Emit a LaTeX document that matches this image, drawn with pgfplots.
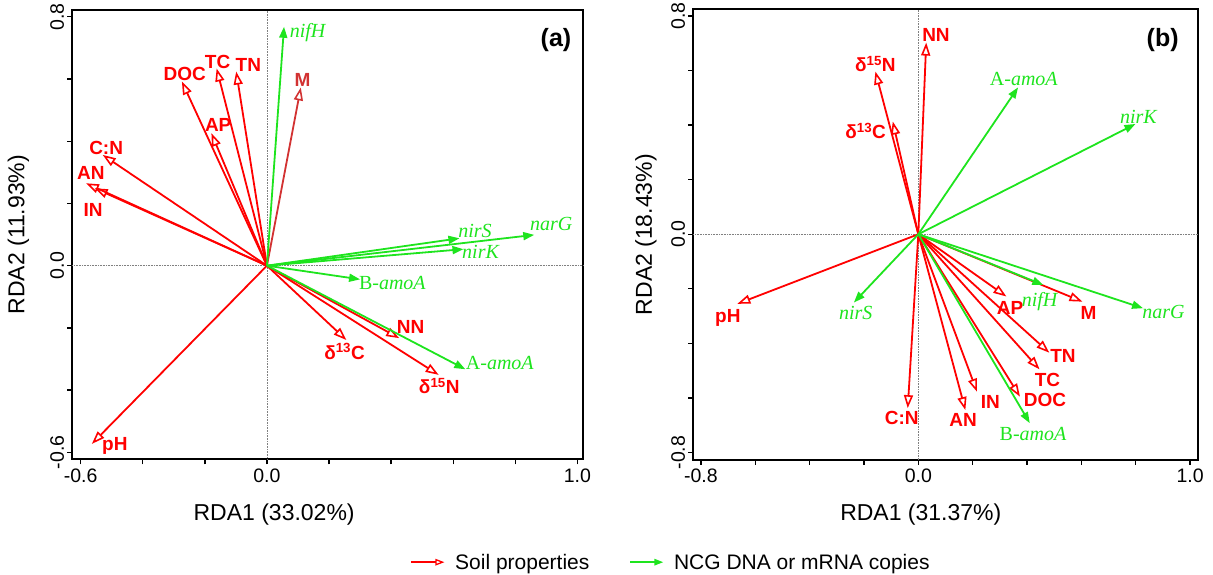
\documentclass[border=0pt]{standalone}
\usepackage{pgfplots}
\pgfplotsset{compat=1.18}
\usepackage{fontspec}
\setmainfont{Liberation Sans}
\newfontfamily\tms{Liberation Serif}
\usetikzlibrary{arrows.meta}
\definecolor{ngreen}{RGB}{30,228,30}
\definecolor{mred}{RGB}{210,50,50}
\newcommand{\soil}[2]{\addplot[soilarr, forget plot] coordinates {(0,0) (#1,#2)};}
\newcommand{\soilc}[3]{\addplot[soilarr, draw=#3, forget plot] coordinates {(0,0) (#1,#2)};}
\newcommand{\gene}[2]{\addplot[genearr, forget plot] coordinates {(0,0) (#1,#2)};}
\newcommand{\slbl}[3]{\node[slab] at (axis cs:#1,#2) {#3};}
\newcommand{\glbl}[3]{\node[glab] at (axis cs:#1,#2) {#3};}
\begin{document}
\begin{tikzpicture}
\useasboundingbox (0pt,0pt) rectangle (1213pt,575pt);
\tikzset{
  soilarr/.style={draw=red, line width=1.8pt, -{Triangle[open, length=13pt, width=9pt, line width=1.6pt]}},
  genearr/.style={draw=ngreen, fill=ngreen, line width=1.8pt, -{Triangle[length=11pt, width=8pt]}},
  slab/.style={text=red, font=\bfseries\fontsize{19}{19}\selectfont, inner sep=0pt},
  glab/.style={text=ngreen, font=\tms\itshape\fontsize{20}{20}\selectfont, inner sep=0pt},
}
\pgfplotsset{
  rda/.style={
    scale only axis, clip=false,
    axis line style={line width=1.8pt},
    tick align=outside, tick pos=left,
    major tick length=5pt,
    tick style={black, line width=1.3pt},
    ticklabel style={font=\fontsize{19.5}{20}\selectfont},
    /pgf/number format/assume math mode=true,
    yticklabel style={rotate=90, anchor=south, inner sep=3pt},
    xticklabel style={anchor=north, inner sep=4pt},
  }
}
% ---------------- panel (a) ----------------
\begin{axis}[rda,
  at={(72.3pt,115.7pt)}, anchor=south west,
  width=511pt, height=449.3pt,
  xmin=-0.627, xmax=1.019, ymin=-0.6225, ymax=0.822,
  xtick={-0.6,-0.4,-0.2,0,0.2,0.4,0.6,0.8,1.0},
  xticklabels={-0.6,,,0.0,,,,,1.0},
  ytick={-0.6,-0.4,-0.2,0,0.2,0.4,0.6,0.8},
  yticklabels={-0.6,,,0.0,,,,0.8},
  xlabel={RDA1 (33.02\%)}, ylabel={RDA2 (11.93\%)},
  every axis x label/.style={at={(rel axis cs:0.395,0)}, anchor=center, yshift=-55pt, font=\fontsize{23}{23}\selectfont},
  every axis y label/.style={at={(rel axis cs:0,0.5)}, anchor=center, xshift=-54pt, rotate=90, font=\fontsize{23}{23}\selectfont},
  legend columns=2,
  legend style={at={(axis description cs:0.6558,-0.229)}, anchor=west, draw=none, fill=none,
    font=\fontsize{21}{21}\selectfont,
    /tikz/every odd column/.append style={column sep=8pt},
    /tikz/every even column/.append style={column sep=38pt}},
]
\addplot[forget plot, densely dotted, gray, line width=0.6pt] coordinates {(0,-0.6225) (0,0.822)};
\addplot[forget plot, densely dotted, gray, line width=0.6pt] coordinates {(-0.627,0) (1.019,0)};
% soil properties
\soil{-0.099}{0.624}
\soil{-0.162}{0.634}
\soil{-0.274}{0.592}
\soil{-0.179}{0.426}
\soil{-0.529}{0.356}
\soil{-0.583}{0.265}
\soil{-0.555}{0.249}
\soil{0.256}{-0.239}
\soil{0.426}{-0.233}
\soil{0.553}{-0.351}
\soil{-0.564}{-0.573}
\soilc{0.109}{0.573}{mred}
% genes
\gene{0.055}{0.768}
\gene{0.620}{0.088}
\gene{0.861}{0.099}
\gene{0.633}{0.053}
\gene{0.300}{-0.044}
\gene{0.639}{-0.333}
% labels
\node[slab, text=mred] at (axis cs:0.115,0.597) {M};
\slbl{-0.060}{0.645}{TN}
\slbl{-0.159}{0.654}{TC}
\slbl{-0.265}{0.616}{DOC}
\slbl{-0.157}{0.452}{AP}
\slbl{-0.518}{0.380}{C:N}
\slbl{-0.567}{0.297}{AN}
\slbl{-0.560}{0.179}{IN}
\slbl{0.250}{-0.276}{δ\textsuperscript{13}C}
\slbl{0.463}{-0.198}{NN}
\slbl{0.555}{-0.387}{δ\textsuperscript{15}N}
\slbl{-0.490}{-0.579}{pH}
\glbl{0.131}{0.749}{nifH}
\glbl{0.670}{0.111}{nirS}
\glbl{0.916}{0.134}{narG}
\glbl{0.688}{0.043}{nirK}
\glbl{0.404}{-0.057}{{\upshape B-}amoA}
\glbl{0.750}{-0.312}{{\upshape A-}amoA}
\node[font=\bfseries\fontsize{25}{25}\selectfont] at (axis cs:0.931,0.726) {(a)};
\addlegendimage{legend image code/.code={\draw[red, line width=1.6pt, -{Triangle[open, length=9pt, width=6.5pt, line width=1.3pt]}] (0pt,0pt) -- (33pt,0pt);}}
\addlegendentry{Soil properties}
\addlegendimage{legend image code/.code={\draw[ngreen, fill=ngreen, line width=1.6pt, -{Triangle[length=9pt, width=6.5pt]}] (0pt,0pt) -- (33pt,0pt);}}
\addlegendentry{NCG DNA or mRNA copies}
\end{axis}
% ---------------- panel (b) ----------------
\begin{axis}[rda,
  at={(693.3pt,115pt)}, anchor=south west,
  width=504.4pt, height=450.7pt,
  xmin=-0.828, xmax=1.028, ymin=-0.827, ymax=0.824,
  xtick={-0.8,-0.6,-0.4,-0.2,0,0.2,0.4,0.6,0.8,1.0},
  xticklabels={-0.8,,,,0.0,,,,,1.0},
  ytick={-0.8,-0.6,-0.4,-0.2,0,0.2,0.4,0.6,0.8},
  yticklabels={-0.8,,,,0.0,,,,0.8},
  xlabel={RDA1 (31.37\%)}, ylabel={RDA2 (18.43\%)},
  every axis x label/.style={at={(rel axis cs:0.451,0)}, anchor=center, yshift=-55pt, font=\fontsize{23}{23}\selectfont},
  every axis y label/.style={at={(rel axis cs:0,0.5)}, anchor=center, xshift=-47.5pt, rotate=90, font=\fontsize{23}{23}\selectfont},
]
\addplot[forget plot, densely dotted, gray, line width=0.6pt] coordinates {(0,-0.827) (0,0.824)};
\addplot[forget plot, densely dotted, gray, line width=0.6pt] coordinates {(-0.828,0) (1.028,0)};
% soil
\soil{0.029}{0.702}
\soil{-0.158}{0.596}
\soil{-0.094}{0.413}
\soil{-0.666}{-0.255}
\soil{-0.039}{-0.637}
\soil{0.173}{-0.644}
\soil{0.216}{-0.577}
\soil{0.374}{-0.595}
\soil{0.446}{-0.495}
\soil{0.482}{-0.434}
\soil{0.324}{-0.228}
\soil{0.604}{-0.247}
% genes
\gene{0.367}{0.538}
\gene{0.799}{0.404}
\gene{-0.237}{-0.250}
\gene{0.410}{-0.692}
\gene{0.460}{-0.186}
\gene{0.827}{-0.271}
% labels
\slbl{0.065}{0.730}{NN}
\slbl{-0.158}{0.623}{δ\textsuperscript{15}N}
\slbl{-0.194}{0.379}{δ\textsuperscript{13}C}
\slbl{-0.701}{-0.308}{pH}
\slbl{-0.061}{-0.672}{C:N}
\slbl{0.165}{-0.681}{AN}
\slbl{0.265}{-0.615}{IN}
\slbl{0.466}{-0.607}{DOC}
\slbl{0.475}{-0.534}{TC}
\slbl{0.532}{-0.446}{TN}
\slbl{0.338}{-0.271}{AP}
\slbl{0.626}{-0.289}{M}
\glbl{0.388}{0.569}{{\upshape A-}amoA}
\glbl{0.810}{0.431}{nirK}
\glbl{-0.230}{-0.289}{nirS}
\glbl{0.422}{-0.731}{{\upshape B-}amoA}
\glbl{0.446}{-0.247}{nifH}
\glbl{0.902}{-0.283}{narG}
\node[font=\bfseries\fontsize{25}{25}\selectfont] at (axis cs:0.899,0.712) {(b)};
\end{axis}
\end{tikzpicture}
\end{document}
